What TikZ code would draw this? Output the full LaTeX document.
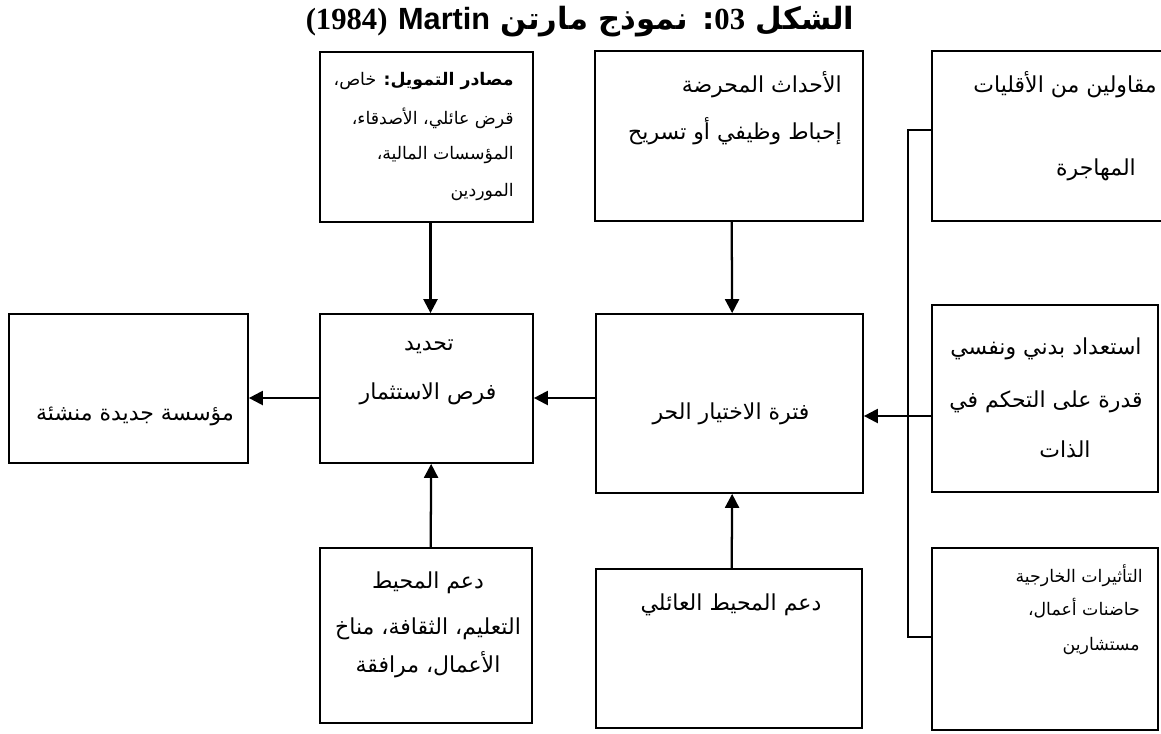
\documentclass[tikz,border=0pt]{standalone}
\usepackage{fontspec}
\usetikzlibrary{arrows.meta}
\TeXXeTstate=1
\newfontfamily\arabicfont[Script=Arabic]{DejaVu Sans}
\newfontfamily\latinserif{Liberation Serif}
\newfontfamily\latinsans{Liberation Sans}

\begin{document}
\begin{tikzpicture}[x=0.75pt,y=-0.75pt,
  box/.style n args={2}{draw, line width=1.3pt, inner sep=0pt,
    minimum width=#1*0.75pt, minimum height=#2*0.75pt},
  conn/.style={line width=1.7pt, -{Triangle[length=10.5pt,width=10.5pt]}},
  link/.style={line width=1.3pt},
  big/.style={font=\arabicfont\fontsize{16.5}{20}\selectfont, inner sep=0pt},
  small/.style={font=\arabicfont\fontsize{13}{16}\selectfont, inner sep=0pt},
  heading/.style={font=\arabicfont\bfseries\fontsize{23}{28}\selectfont, inner sep=0pt}]
\useasboundingbox (0,0) rectangle (1161,733);

% title
\node[heading] (title) at (580,22) {\beginR الشكل {\latinserif\bfseries\beginL 03\endL}: نموذج مارتن {\latinsans\bfseries\beginL Martin\endL} {\latinserif\bfseries\beginL (1984)\endL}\endR};

% boxes
\node[box={213}{170}] (fund)   at (426.5,137) {};
\node[box={268}{170}] (events) at (729,136) {};
\node[box={268}{170}] (minor)  at (1066,136) {};
\node[box={226}{187}] (self)   at (1045,398.5) {};
\node[box={226}{182}] (ext)    at (1045,639) {};
\node[box={267}{179}] (free)   at (729.5,403.5) {};
\node[box={213}{149}] (invest) at (426.5,388.5) {};
\node[box={239}{149}] (newent) at (128.5,388.5) {};
\node[box={212}{175}] (env)    at (426,635.5) {};
\node[box={266}{159}] (family) at (729,648.5) {};

% box texts
\node[small, anchor=mid east] (fundA) at (514,83)  {\beginR{\bfseries مصادر التمويل:} خاص،\endR};
\node[small, anchor=mid east] (fundB) at (514,122) {\beginR قرض عائلي، الأصدقاء،\endR};
\node[small, anchor=mid east] (fundC) at (514,157) {\beginR المؤسسات المالية،\endR};
\node[small, anchor=mid east] (fundD) at (514,194) {\beginR الموردين\endR};

\node[big, anchor=mid east] (eventsA) at (842,90)  {\beginR الأحداث المحرضة\endR};
\node[big, anchor=mid east] (eventsB) at (842,137) {\beginR إحباط وظيفي أو تسريح\endR};

\node[big, anchor=mid east] (minorA) at (1157,90) {\beginR مقاولين من الأقليات\endR};
\node[big, anchor=mid] (minorB) at (1096,173) {\beginR المهاجرة\endR};

\node[big, anchor=mid] (selfA) at (1046,352) {\beginR استعداد بدني ونفسي\endR};
\node[big, anchor=mid] (selfB) at (1046,405) {\beginR قدرة على التحكم في\endR};
\node[big, anchor=mid] (selfC) at (1065,455) {\beginR الذات\endR};

\node[small, anchor=mid east] (extA) at (1143,580) {\beginR التأثيرات الخارجية\endR};
\node[small, anchor=mid east] (extB) at (1140,613) {\beginR حاضنات أعمال،\endR};
\node[small, anchor=mid east] (extC) at (1140,648) {\beginR مستشارين\endR};

\node[big, anchor=mid] (freeA) at (731,417) {\beginR فترة الاختيار الحر\endR};

\node[big, anchor=mid] (investA) at (429,348) {\beginR تحديد\endR};
\node[big, anchor=mid] (investB) at (428,397) {\beginR فرص الاستثمار\endR};

\node[big, anchor=mid] (newentA) at (135,418) {\beginR مؤسسة جديدة منشئة\endR};

\node[big, anchor=mid] (envA) at (428,586) {\beginR دعم المحيط\endR};
\node[big, anchor=mid] (envB) at (428,632) {\beginR التعليم، الثقافة، مناخ\endR};
\node[big, anchor=mid] (envC) at (428,670) {\beginR الأعمال، مرافقة\endR};

\node[big, anchor=mid] (familyA) at (731,608) {\beginR دعم المحيط العائلي\endR};

% connectors
\coordinate (rowA) at (0,398);
\coordinate (rowB) at (0,416);
\coordinate (brTop) at (908,130);
\coordinate (brBot) at (908,637);

\draw[conn] ([xshift=3pt]fund.south) -- ([xshift=3pt]invest.north);
\draw[conn] ([xshift=2pt]events.south) -- ([xshift=2pt]free.north);
\draw[conn] (free.west |- rowA) -- (invest.east |- rowA);
\draw[conn] (invest.west |- rowA) -- (newent.east |- rowA);
\draw[conn] (self.west |- rowB) -- (free.east |- rowB);
\draw[conn] ([xshift=3.5pt]env.north) -- ([xshift=3.5pt]invest.south);
\draw[conn] ([xshift=2pt]family.north) -- ([xshift=2pt]free.south);
\draw[link] (minor.west |- brTop) -- (brTop) -- (brBot) -- (ext.west |- brBot);
\end{tikzpicture}
\end{document}
